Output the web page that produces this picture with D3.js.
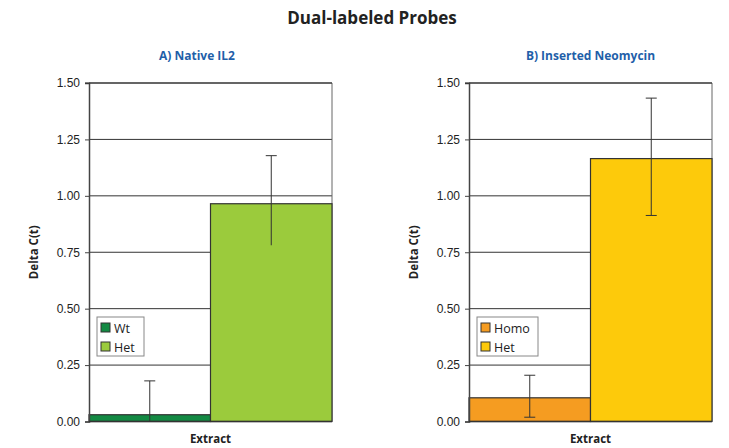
<!DOCTYPE html>
<html lang="en">
<head>
<meta charset="UTF-8">
<title>Dual-labeled Probes</title>
<script src="https://cdn.jsdelivr.net/npm/d3@7"></script>
<style>
    body { margin: 0; background: #fff; }
    svg { display: block; font-family: "Open Sans", "Noto Sans", sans-serif; }
    .tick text { font-size: 12px; fill: #222; }
    .title { font-size: 17px; font-weight: bold; fill: #222; }
    .subtitle { font-size: 12px; font-weight: bold; fill: #1f5fa9; }
    .axis-label { font-size: 11.5px; font-weight: bold; fill: #222; }
    .legend text { font-size: 12.5px; fill: #222; }
</style>
</head>
<body>
<svg id="chart" width="729" height="448"></svg>
<script>
// values
const panelTitles = ["A) Native IL2", "B) Inserted Neomycin"];
const seriesNames = [["Wt", "Het"], ["Homo", "Het"]];
const seriesValues = [[0.03, 0.965], [0.105, 1.165]];
const errUpper = [[0.15, 0.213], [0.10, 0.268]];
const errLower = [[0.15, 0.184], [0.086, 0.252]];
const seriesColors = [["#138a43", "#9bcb3c"], ["#f59c21", "#fdca0b"]];
const yTicks = [0, 0.25, 0.5, 0.75, 1.0, 1.25, 1.5];
const category = "Extract";

const svg = d3.select("#chart");
const plotTop = 83, plotBottom = 421.5, plotW = 243;
const panelLeft = [89, 469];
const titleShift = [-13.5, 0];

svg.append("text")
    .attr("class", "title")
    .attr("x", 372).attr("y", 24)
    .attr("text-anchor", "middle")
    .text("Dual-labeled Probes");

const y = d3.scaleLinear().domain([0, 1.5]).range([plotBottom, plotTop]);

panelTitles.forEach((title, p) => {
    const left = panelLeft[p];
    const g = svg.append("g");
    const x = d3.scaleBand()
        .domain(seriesNames[p])
        .range([left, left + plotW])
        .padding(0);

    // title of the panel
    g.append("text")
        .attr("class", "subtitle")
        .attr("x", left + plotW / 2 + titleShift[p]).attr("y", 59.5)
        .attr("text-anchor", "middle")
        .text(title);

    // grid lines
    g.append("g")
        .selectAll("line")
        .data(yTicks.slice(1))
        .join("line")
        .attr("x1", left).attr("x2", left + plotW)
        .attr("y1", d => y(d)).attr("y2", d => y(d))
        .attr("stroke", "#333")
        .attr("stroke-width", 1);

    // right edge of the plot
    g.append("line")
        .attr("x1", left + plotW).attr("x2", left + plotW)
        .attr("y1", plotTop).attr("y2", plotBottom)
        .attr("stroke", "#666");

    // bars
    g.append("g")
        .selectAll("rect")
        .data(seriesNames[p])
        .join("rect")
        .attr("x", d => x(d))
        .attr("width", x.bandwidth())
        .attr("y", (d, i) => y(seriesValues[p][i]))
        .attr("height", (d, i) => plotBottom - y(seriesValues[p][i]))
        .attr("fill", (d, i) => seriesColors[p][i])
        .attr("stroke", "#333")
        .attr("stroke-width", 1.2);

    // error bars
    const eb = g.append("g")
        .selectAll("g")
        .data(seriesNames[p])
        .join("g")
        .attr("stroke", "#333")
        .attr("stroke-width", 1);
    const hi = i => y(seriesValues[p][i] + errUpper[p][i]);
    const lo = i => y(Math.max(0, seriesValues[p][i] - errLower[p][i]));
    const cx = d => x(d) + x.bandwidth() / 2;
    eb.append("line")
        .attr("x1", cx).attr("x2", cx)
        .attr("y1", (d, i) => hi(i)).attr("y2", (d, i) => lo(i));
    eb.append("line")
        .attr("x1", d => cx(d) - 5.5).attr("x2", d => cx(d) + 5.5)
        .attr("y1", (d, i) => hi(i)).attr("y2", (d, i) => hi(i));
    eb.filter((d, i) => seriesValues[p][i] - errLower[p][i] > 0)
        .append("line")
        .attr("x1", d => cx(d) - 5.5).attr("x2", d => cx(d) + 5.5)
        .attr("y1", (d, i) => lo(i)).attr("y2", (d, i) => lo(i));

    // y axis
    const yAxis = g.append("g")
        .attr("transform", `translate(${left},0)`)
        .call(d3.axisLeft(y).tickValues(yTicks).tickFormat(d3.format(".2f")).tickSize(4).tickPadding(5));
    yAxis.select(".domain").attr("stroke", "#444").attr("stroke-width", 1.5);
    yAxis.selectAll(".tick line").attr("stroke", "#444");

    // top edge of the plot
    g.append("line")
        .attr("x1", left - 4).attr("x2", left + plotW)
        .attr("y1", plotTop).attr("y2", plotTop)
        .attr("stroke", "#333").attr("stroke-width", 1.2);
    // baseline
    g.append("line")
        .attr("x1", left).attr("x2", left + plotW)
        .attr("y1", plotBottom).attr("y2", plotBottom)
        .attr("stroke", "#333").attr("stroke-width", 1.5);

    g.append("text")
        .attr("class", "axis-label")
        .attr("transform", `translate(${left - 51},${(plotTop + plotBottom) / 2}) rotate(-90)`)
        .attr("text-anchor", "middle")
        .text("Delta C(t)");

    g.append("text")
        .attr("class", "axis-label")
        .attr("x", left + plotW / 2).attr("y", 443)
        .attr("text-anchor", "middle")
        .text(category);

    // legend
    const legW = p === 0 ? 47 : 61;
    const leg = g.append("g")
        .attr("class", "legend")
        .attr("transform", `translate(${left + 8},317)`);
    leg.append("rect")
        .attr("width", legW).attr("height", 39)
        .attr("fill", "#fff").attr("stroke", "#888");
    const item = leg.selectAll("g.item")
        .data(seriesNames[p])
        .join("g")
        .attr("class", "item")
        .attr("transform", (d, i) => `translate(4,${6 + i * 19})`);
    item.append("rect")
        .attr("width", 9).attr("height", 9)
        .attr("fill", (d, i) => seriesColors[p][i])
        .attr("stroke", "#333");
    item.append("text")
        .attr("x", 13).attr("y", 9.5)
        .text(d => d);
});
</script>
</body>
</html>
